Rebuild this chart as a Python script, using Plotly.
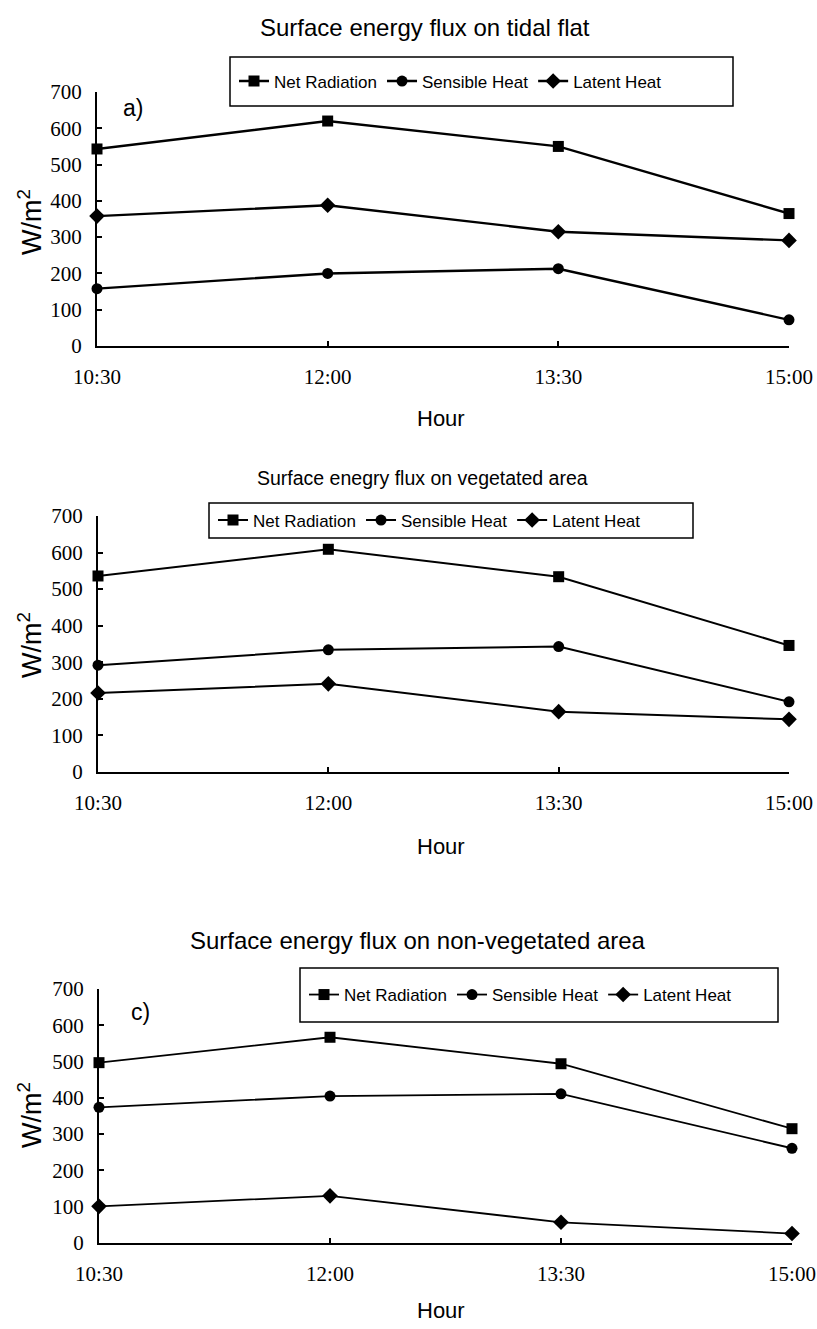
import plotly.graph_objects as go

# ---------------- data ----------------
hours = [10.5, 12.0, 13.5, 15.0]
hour_labels = ["10:30", "12:00", "13:30", "15:00"]
series_names = ["Net Radiation", "Sensible Heat", "Latent Heat"]
y_ticks = [0, 100, 200, 300, 400, 500, 600, 700]

tidal_net = [543, 620, 550, 365]
tidal_sensible = [158, 200, 213, 72]
tidal_latent = [358, 388, 315, 291]

veg_net = [536, 609, 534, 346]
veg_sensible = [292, 334, 343, 192]
veg_latent = [216, 241, 165, 144]

nonveg_net = [497, 567, 494, 315]
nonveg_sensible = [374, 405, 411, 261]
nonveg_latent = [101, 130, 57, 26]

titles = ["Surface energy flux on tidal flat",
          "Surface enegry flux on vegetated area",
          "Surface energy flux on non-vegetated area"]
panel_tags = ["a)", "", "c)"]

# ---------------- layout helpers ----------------
W, H = 817, 1329


def fx(px):
    return px / W


def fy(py):
    return 1 - py / H


panels = [
    dict(data=(tidal_net, tidal_sensible, tidal_latent),
         x0=97, x1=789, ytop=92, ybot=346, title_y=27, title_size=24, title_x=425,
         leg=(230, 57, 733, 106), tag_xy=(133, 108), hour_y=419, wm_y=222, lw=2.4),
    dict(data=(veg_net, veg_sensible, veg_latent),
         x0=98, x1=789, ytop=516, ybot=772, title_y=478, title_size=19.5, title_x=422,
         leg=(209, 503, 693, 538), tag_xy=None, hour_y=846, wm_y=645, lw=2.0),
    dict(data=(nonveg_net, nonveg_sensible, nonveg_latent),
         x0=99, x1=792, ytop=989, ybot=1243, title_y=940, title_size=24, title_x=418,
         leg=(300, 968, 778, 1022), tag_xy=(140, 1012), hour_y=1310, wm_y=1115, lw=1.8),
]

symbols = ["square", "circle", "diamond"]
serif = "Liberation Serif"
sans = "Liberation Sans"

fig = go.Figure()
annotations = []
shapes = []
layout_axes = {}

for i, p in enumerate(panels):
    n = i + 1
    xa = "x" if n == 1 else f"x{n}"
    ya = "y" if n == 1 else f"y{n}"
    legname = "legend" if n == 1 else f"legend{n}"
    for name, vals, sym in zip(series_names, p["data"], symbols):
        fig.add_trace(go.Scatter(
            x=hours, y=vals, name=name, mode="lines+markers",
            line=dict(color="black", width=p["lw"]),
            marker=dict(symbol=sym, size=11 if sym != "diamond" else 12, color="black"),
            xaxis=xa, yaxis=ya, legend=legname, cliponaxis=False,
        ))

    xkey = "xaxis" if n == 1 else f"xaxis{n}"
    ykey = "yaxis" if n == 1 else f"yaxis{n}"
    layout_axes[xkey] = dict(
        domain=[fx(p["x0"]), fx(p["x1"])], anchor=ya, range=[10.5, 15],
        tickvals=hours, ticktext=hour_labels, ticks="inside", ticklen=5,
        tickwidth=1.5, tickcolor="black", automargin=False,
        showline=True, linewidth=2, linecolor="black", showgrid=False, zeroline=False,
        tickfont=dict(family=serif, size=21, color="black"), ticklabelstandoff=11,
        fixedrange=True,
    )
    layout_axes[ykey] = dict(
        domain=[fy(p["ybot"]), fy(p["ytop"])], anchor=xa, range=[0, 700],
        tickvals=y_ticks, ticks="inside", ticklen=5, tickwidth=1.5, tickcolor="black",
        showline=True, linewidth=2, linecolor="black", showgrid=False, zeroline=False,
        tickfont=dict(family=serif, size=21, color="black"), ticklabelstandoff=9,
        automargin=False, fixedrange=True,
    )

    # title
    annotations.append(dict(
        text=titles[i], xref="paper", yref="paper", x=fx(p["title_x"]), y=fy(p["title_y"]),
        xanchor="center", yanchor="middle", showarrow=False,
        font=dict(family=sans, size=p["title_size"], color="black")))
    # x title
    annotations.append(dict(
        text="Hour", xref="paper", yref="paper", x=fx(441), y=fy(p["hour_y"]),
        xanchor="center", yanchor="middle", showarrow=False,
        font=dict(family=sans, size=22, color="black")))
    # y title
    annotations.append(dict(
        text="W/m<sup>2</sup>", xref="paper", yref="paper", x=fx(30), y=fy(p["wm_y"]),
        xanchor="center", yanchor="middle", showarrow=False, textangle=-90,
        font=dict(family=sans, size=27, color="black")))
    # panel tag
    if p["tag_xy"]:
        annotations.append(dict(
            text=panel_tags[i], xref="paper", yref="paper",
            x=fx(p["tag_xy"][0]), y=fy(p["tag_xy"][1]),
            xanchor="center", yanchor="middle", showarrow=False,
            font=dict(family=sans, size=23, color="black")))

    # legend box
    lx0, ly0, lx1, ly1 = p["leg"]
    shapes.append(dict(type="rect", xref="paper", yref="paper",
                       x0=fx(lx0), x1=fx(lx1), y0=fy(ly1), y1=fy(ly0),
                       line=dict(color="black", width=1.5), fillcolor="rgba(0,0,0,0)"))
    layout_axes[legname] = dict(
        orientation="h", x=fx(lx0 + 4), y=fy((ly0 + ly1) / 2), xanchor="left", yanchor="middle",
        bgcolor="rgba(0,0,0,0)", borderwidth=0, itemwidth=30,
        font=dict(family=sans, size=17, color="black"), itemclick=False,
        tracegroupgap=0,
    )

fig.update_layout(
    width=W, height=H, margin=dict(l=0, r=0, t=0, b=0, autoexpand=False),
    paper_bgcolor="white", plot_bgcolor="white",
    annotations=annotations, shapes=shapes, showlegend=True,
    **layout_axes,
)

fig.write_html("out.html")
